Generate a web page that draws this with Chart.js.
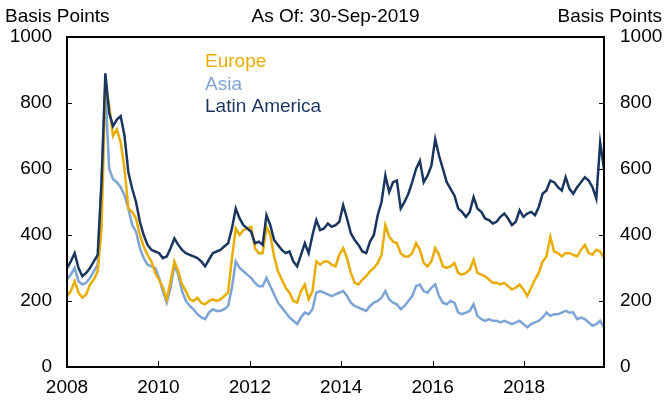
<!DOCTYPE html>
<html>
<head>
<meta charset="utf-8">
<script src="https://cdn.jsdelivr.net/npm/chart.js@4.4.1/dist/chart.umd.min.js"></script>
<style>
  html, body { margin: 0; padding: 0; background: #fff; }
  #wrap { width: 666px; height: 400px; position: relative; }
</style>
</head>
<body>
<div id="wrap"><canvas id="spreads"></canvas></div>
<script>
// Sovereign spreads by region, monthly readings Jan 2008 - Sep 2019
const titleText = 'As Of: 30-Sep-2019';
const axisTitle = 'Basis Points';
const seriesNames = ['Europe', 'Asia', 'Latin America'];
const seriesColors = ['#E9AC00', '#7DA4D4', '#1A365F'];
const yTicks = [0, 200, 400, 600, 800, 1000];
const xTicks = [2008, 2010, 2012, 2014, 2016, 2018];
const xStart = 2008;
const xEnd = 2019.75;

const europe = [
  215, 230, 260, 225, 210, 220, 250, 265, 290, 420, 860, 790,
  700, 720, 680, 600, 480, 470, 450, 400, 365, 340, 320, 285,
  265, 240, 205, 260, 320, 290, 250, 230, 205, 200, 210, 195,
  190, 200, 205, 200, 205, 215, 225, 330, 420, 400, 415, 420,
  425, 360, 345, 345, 425, 400, 335, 290, 265, 240, 225, 200,
  195, 230, 250, 205, 230, 320, 310, 320, 320, 310, 305, 340,
  360, 330, 285, 255, 250, 265, 275, 290, 300, 315, 340, 430,
  395, 380, 375, 345, 335, 335, 345, 375, 355, 315, 305, 320,
  360, 340, 305, 300, 305, 315, 285, 280, 285, 295, 325, 285,
  280, 275, 265, 255, 255, 250, 255, 245, 235, 240, 250, 235,
  215, 240, 265, 285, 320, 335, 395, 350, 345, 335, 345, 345,
  340, 335, 355, 370, 345, 340, 355, 350, 330
];

const asia = [
  265, 280, 300, 260, 250, 255, 270, 290, 310, 560, 840, 600,
  570, 560, 545, 520, 480, 430, 410, 360, 330, 310, 305, 300,
  270, 230, 195, 240, 310, 280, 230, 200, 185, 175, 160, 150,
  145, 165, 175, 170, 170, 175, 185, 240, 320, 300, 290, 280,
  270, 255, 245, 245, 270, 245, 220, 195, 180, 165, 150, 140,
  130, 150, 165, 160, 175, 225, 230, 225, 220, 215, 220, 225,
  230, 215, 195, 185, 180, 175, 170, 185, 195, 200, 210, 230,
  205, 195, 190, 175, 185, 200, 215, 245, 250, 230, 225, 240,
  250, 215, 195, 190, 200, 195, 165, 160, 165, 170, 190, 155,
  145, 140, 145, 140, 140, 135, 140, 135, 130, 135, 140, 130,
  120, 130, 135, 140, 150, 165, 155, 160, 160, 165, 170, 165,
  165, 145, 150, 145, 135, 125, 130, 140, 120
];

const latinAmerica = [
  300, 320, 345, 300, 275, 285, 300, 320, 340, 560, 890, 770,
  730, 750, 760, 700, 590, 540, 500, 440, 400, 370, 355, 350,
  345, 330, 335, 360, 390, 370, 355, 345, 340, 335, 330, 320,
  305, 325, 345, 350, 355, 365, 375, 420, 480, 450, 430, 420,
  410, 375, 380, 370, 460, 430, 385, 370, 355, 345, 350, 320,
  305, 340, 375, 345, 400, 445, 415, 420, 435, 425, 430, 440,
  490, 450, 405, 385, 370, 350, 345, 380, 400, 460, 500, 580,
  530, 560, 565, 480, 500, 525, 560, 600, 625, 560, 580, 610,
  690, 640, 600, 560, 540, 520, 480, 470, 455, 470, 515, 480,
  470, 450, 445, 435, 440, 455, 465, 450, 430, 440, 475, 455,
  465, 470, 460, 485, 525, 535, 565, 560, 545, 535, 575, 540,
  525, 545, 560, 575, 565, 545, 510, 680, 600
];

const step = (xEnd - xStart) / (europe.length - 1);
const toPoints = values => values.map((v, i) => ({ x: xStart + i * step, y: v }));

const font = { family: '"Liberation Sans", Arial, sans-serif', size: 19 };

// frame, inward tick marks, headers and in-plot legend
const decorations = {
  id: 'decorations',
  afterDatasetsDraw(chart) {
    const { ctx, chartArea: a, scales } = chart;
    ctx.save();
    ctx.strokeStyle = '#000';
    ctx.lineWidth = 2;
    ctx.strokeRect(a.left, a.top, a.right - a.left, a.bottom - a.top);

    ctx.lineWidth = 1;
    ctx.beginPath();
    xTicks.slice(1).forEach(v => {
      const px = Math.round(scales.x.getPixelForValue(v)) + 0.5;
      ctx.moveTo(px, a.bottom);
      ctx.lineTo(px, a.bottom - 6);
    });
    yTicks.slice(1, -1).forEach(v => {
      const py = Math.round(scales.y.getPixelForValue(v)) + 0.5;
      ctx.moveTo(a.left, py);
      ctx.lineTo(a.left + 5, py);
      ctx.moveTo(a.right, py);
      ctx.lineTo(a.right - 5, py);
    });
    ctx.stroke();

    ctx.font = font.size + 'px ' + font.family;
    ctx.textBaseline = 'middle';
    ctx.fillStyle = '#000';
    ctx.textAlign = 'left';
    ctx.fillText(axisTitle, 5, 17);
    ctx.textAlign = 'right';
    ctx.fillText(axisTitle, chart.width - 4, 17);
    ctx.textAlign = 'center';
    ctx.fillText(titleText, (a.left + a.right) / 2, 17);

    ctx.textAlign = 'left';
    seriesNames.forEach((name, i) => {
      ctx.fillStyle = seriesColors[i];
      ctx.fillText(name, a.left + 138, a.top + 25 + i * 22.5);
    });
    ctx.restore();
  }
};

const yAxis = (position, width, padding) => ({
  position,
  min: 0,
  max: 1000,
  afterFit: s => { s.width = width; },
  afterBuildTicks: s => { s.ticks = yTicks.map(v => ({ value: v })); },
  grid: { display: false, drawTicks: false },
  border: { display: false },
  ticks: { padding, color: '#000', font, callback: v => String(v) }
});

new Chart(document.getElementById('spreads'), {
  type: 'line',
  data: {
    datasets: [
      { label: seriesNames[0], data: toPoints(europe), borderColor: seriesColors[0], order: 1 },
      { label: seriesNames[1], data: toPoints(asia), borderColor: seriesColors[1], order: 2 },
      { label: seriesNames[2], data: toPoints(latinAmerica), borderColor: seriesColors[2], order: 0 }
    ]
  },
  options: {
    responsive: true,
    maintainAspectRatio: false,
    animation: false,
    layout: { padding: { top: 37, left: 0, right: 0, bottom: 0 } },
    elements: {
      line: { borderWidth: 2.5, tension: 0, fill: false },
      point: { radius: 0 }
    },
    plugins: {
      legend: { display: false },
      tooltip: { enabled: false }
    },
    scales: {
      x: {
        type: 'linear',
        min: xStart,
        max: xEnd,
        afterFit: s => { s.height = 33; },
        afterBuildTicks: s => { s.ticks = xTicks.map(v => ({ value: v })); },
        grid: { display: false, drawTicks: false },
        border: { display: false },
        ticks: { padding: 9, color: '#000', font, maxRotation: 0, autoSkip: false, callback: v => String(v) }
      },
      y: yAxis('left', 67, 15),
      y2: yAxis('right', 62, 16)
    }
  },
  plugins: [decorations]
});
</script>
</body>
</html>
